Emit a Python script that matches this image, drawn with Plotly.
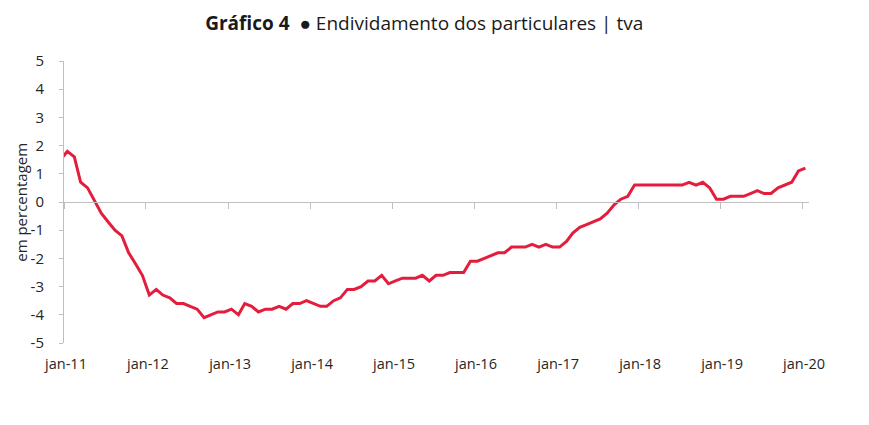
import pandas as pd
import plotly.graph_objects as go

# Monthly year-on-year rate, Dec 2010 .. Jan 2020 (em percentagem)
months = pd.date_range("2010-12-01", "2020-01-01", freq="MS") + pd.Timedelta(days=15)
values = [
    1.5,
    1.8, 1.6, 0.7, 0.5, 0.05, -0.4, -0.7, -1.0, -1.2, -1.8, -2.2, -2.6,     # 2011
    -3.3, -3.1, -3.3, -3.4, -3.6, -3.6, -3.7, -3.8, -4.1, -4.0, -3.9, -3.9,  # 2012
    -3.8, -4.0, -3.6, -3.7, -3.9, -3.8, -3.8, -3.7, -3.8, -3.6, -3.6, -3.5,  # 2013
    -3.6, -3.7, -3.7, -3.5, -3.4, -3.1, -3.1, -3.0, -2.8, -2.8, -2.6, -2.9,  # 2014
    -2.8, -2.7, -2.7, -2.7, -2.6, -2.8, -2.6, -2.6, -2.5, -2.5, -2.5, -2.1,  # 2015
    -2.1, -2.0, -1.9, -1.8, -1.8, -1.6, -1.6, -1.6, -1.5, -1.6, -1.5, -1.6,  # 2016
    -1.6, -1.4, -1.1, -0.9, -0.8, -0.7, -0.6, -0.4, -0.1, 0.1, 0.2, 0.6,     # 2017
    0.6, 0.6, 0.6, 0.6, 0.6, 0.6, 0.6, 0.7, 0.6, 0.7, 0.5, 0.1,              # 2018
    0.1, 0.2, 0.2, 0.2, 0.3, 0.4, 0.3, 0.3, 0.5, 0.6, 0.7, 1.1,              # 2019
    1.2,                                                                     # jan 2020
]

tick_dates = pd.date_range("2011-01-01", "2020-01-01", freq="YS")
tick_labels = ["jan-11", "jan-12", "jan-13", "jan-14", "jan-15",
               "jan-16", "jan-17", "jan-18", "jan-19", "jan-20"]
y_ticks = [5, 4, 3, 2, 1, 0, -1, -2, -3, -4, -5]
y_labels = ["5", "4", "3", "2", "1", "0", "-1", "-2", "-3", "-4", "-5"]

x_range = ["2011-01-01", "2020-02-01"]
FONT = "Open Sans"
TXT = "#262626"
GRAY = "#bfbfbf"

fig = go.Figure()
fig.add_trace(go.Scatter(x=months, y=values, mode="lines",
                         line=dict(color="#e41d3d", width=3),
                         hoverinfo="skip", showlegend=False))
# helper trace so the zero-line axis is drawn
fig.add_trace(go.Scatter(x=months, y=values, mode="lines", xaxis="x2",
                         line=dict(color="rgba(0,0,0,0)", width=0),
                         hoverinfo="skip", showlegend=False))

fig.update_layout(
    width=869, height=425,
    margin=dict(l=56, r=68, t=53, b=90),
    paper_bgcolor="white", plot_bgcolor="white",
    font=dict(family=FONT, color=TXT, size=15),
    title=dict(text="<b>Gráfico 4</b>  ● Endividamento dos particulares | tva",
               x=0.479, xanchor="center", y=0.963, yanchor="middle",
               font=dict(family=FONT, size=19, color="#1a1a1a")),
    xaxis=dict(range=x_range, tickvals=tick_dates, ticktext=tick_labels,
               showline=False, showgrid=False, zeroline=False, ticks="",
               ticklabelstandoff=10, ticklabelshift=2, automargin=False,
               tickfont=dict(size=14.5, color=TXT)),
    xaxis2=dict(range=x_range, overlaying="x", anchor="free", position=0.5,
                tickvals=tick_dates, showticklabels=False, automargin=False,
                showline=True, linecolor=GRAY, linewidth=1,
                ticks="outside", ticklen=6, tickcolor=GRAY,
                showgrid=False, zeroline=False),
    yaxis=dict(range=[-5, 5], tickvals=y_ticks, ticktext=y_labels,
               showgrid=False, zeroline=False,
               showline=True, linecolor=GRAY, linewidth=1,
               ticks="outside", ticklen=4, tickcolor=GRAY,
               ticklabelstandoff=12, automargin=False,
               tickfont=dict(size=15, color=TXT)),
    annotations=[dict(text="em percentagem", textangle=-90,
                      xref="paper", yref="paper", x=-0.058, y=0.5,
                      xanchor="center", yanchor="middle", showarrow=False,
                      font=dict(size=15, color=TXT))],
)

fig.write_html("out.html")
